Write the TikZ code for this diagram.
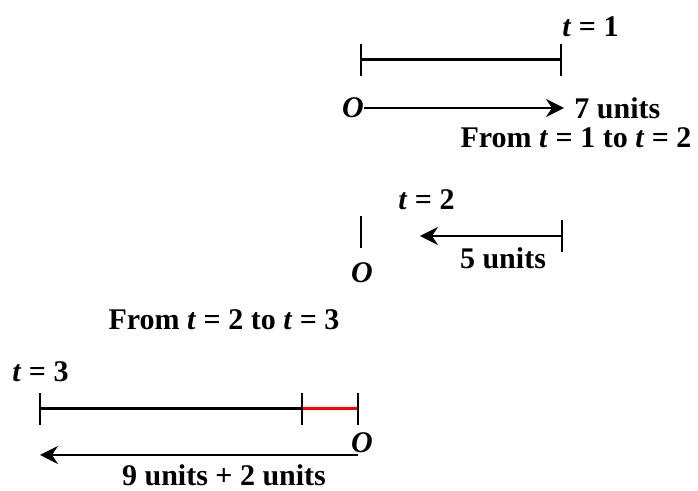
\documentclass[tikz,border=0pt]{standalone}
\usepackage{fontspec}
\setmainfont{Liberation Serif}
\usetikzlibrary{arrows.meta, positioning}
\colorlet{segred}{red}
\tikzset{
  lbl/.style={font=\fontsize{15}{17}\selectfont\bfseries, inner sep=0pt},
  seg/.style={line width=1.5pt},
  bar/.style={line width=0.8pt},
  move/.style={line width=0.8pt, -{Stealth[length=9pt,width=9pt,inset=3pt]}},
}
\newcommand{\tv}{\textit{t}}

\begin{document}
\begin{tikzpicture}[x=0.5pt,y=-0.5pt]
  \useasboundingbox (0,0) rectangle (698,491);
  % t = 1
  \coordinate (a0) at (361,60);
  \coordinate (a1) at (561,60);
  \draw[seg] (a0) -- (a1);
  \foreach \p in {a0,a1}{
    \draw[bar] ([yshift=8pt]\p) -- ([yshift=-8pt]\p);}
  \node[lbl, anchor=west] (t1) at (562,27) {\tv{} = 1};
  \node[lbl] (o1) at (353,108) {\textit{O}};
  \node[lbl, anchor=west] (u7) at (574,108) {7 units};
  \draw[move] (o1.east) -- ([xshift=-5pt]u7.west);
  \node[lbl] (f12) at (576,138) {From \tv{} = 1 to \tv{} = 2};
  % t = 2
  \node[lbl, anchor=west] (t2) at (398,200) {\tv{} = 2};
  \coordinate (b0) at (361,232);
  \coordinate (b1) at (562,236);
  \coordinate (b2) at (420,236);
  \foreach \p in {b0,b1}{
    \draw[bar] ([yshift=8pt]\p) -- ([yshift=-8pt]\p);}
  \node[lbl] (o2) at (362,273) {\textit{O}};
  \draw[move] (b1) -- (b2);
  \node[lbl] (u5) at (503,258) {5 units};
  % t = 3
  \node[lbl] (f23) at (224,320) {From \tv{} = 2 to \tv{} = 3};
  \node[lbl, anchor=west] (t3) at (12,372) {\tv{} = 3};
  \coordinate (c0) at (40,409);
  \coordinate (c1) at (302,409);
  \coordinate (c2) at (358,409);
  \draw[seg] (c0) -- (c1);
  \draw[seg, segred] (c1) -- (c2);
  \foreach \p in {c0,c1,c2}{
    \draw[bar] ([yshift=8pt]\p) -- ([yshift=-8pt]\p);}
  \node[lbl] (o3) at (362,443) {\textit{O}};
  \coordinate (c3) at (358,455);
  \coordinate (c4) at (40,455);
  \draw[move] (c3) -- (c4);
  \node[lbl] (u11) at (224,475) {9 units + 2 units};
\end{tikzpicture}
\end{document}
